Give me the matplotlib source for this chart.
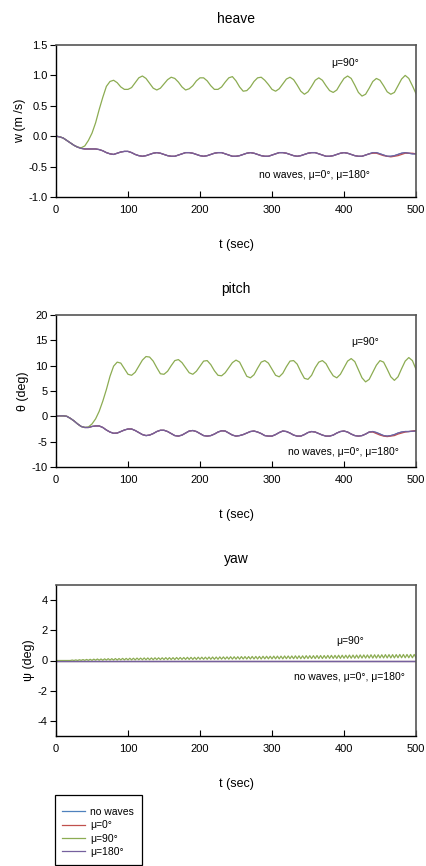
import numpy as np
import matplotlib
matplotlib.use("Agg")
import matplotlib.pyplot as plt
from matplotlib.patches import Rectangle

plt.rcParams['font.family'] = ['Liberation Sans', 'DejaVu Sans']
plt.rcParams['axes.unicode_minus'] = False

# time grid (sec), one reading every 5 s
t = np.arange(0, 501, 5)

# heave w (m/s)
heave_green = [0.00, -0.01, -0.03, -0.07, -0.11, -0.15, -0.18, -0.19, -0.16, -0.07,
               0.05, 0.22, 0.44, 0.64, 0.82, 0.90, 0.92, 0.88, 0.81, 0.77,
               0.77, 0.80, 0.88, 0.96, 0.99, 0.95, 0.87, 0.79, 0.76, 0.79,
               0.86, 0.93, 0.97, 0.95, 0.89, 0.81, 0.76, 0.78, 0.83, 0.91,
               0.96, 0.96, 0.91, 0.83, 0.77, 0.77, 0.81, 0.89, 0.96, 0.98,
               0.91, 0.81, 0.74, 0.75, 0.81, 0.90, 0.96, 0.97, 0.92, 0.85,
               0.77, 0.74, 0.78, 0.86, 0.94, 0.97, 0.93, 0.84, 0.74, 0.69,
               0.73, 0.82, 0.92, 0.96, 0.92, 0.83, 0.75, 0.72, 0.76, 0.86,
               0.95, 0.99, 0.95, 0.84, 0.72, 0.66, 0.69, 0.79, 0.90, 0.95,
               0.92, 0.83, 0.73, 0.69, 0.72, 0.83, 0.94, 1.00, 0.95, 0.83,
               0.70]
heave_low = [0.00, -0.01, -0.03, -0.07, -0.11, -0.15, -0.18, -0.20, -0.21, -0.21,
             -0.21, -0.21, -0.22, -0.24, -0.27, -0.29, -0.30, -0.28, -0.26, -0.25,
             -0.25, -0.27, -0.30, -0.32, -0.33, -0.32, -0.30, -0.28, -0.27, -0.28,
             -0.30, -0.32, -0.33, -0.33, -0.31, -0.29, -0.27, -0.27, -0.28, -0.30,
             -0.32, -0.33, -0.32, -0.30, -0.28, -0.27, -0.27, -0.29, -0.31, -0.33,
             -0.33, -0.32, -0.30, -0.28, -0.27, -0.28, -0.30, -0.32, -0.33, -0.33,
             -0.31, -0.29, -0.27, -0.27, -0.28, -0.30, -0.32, -0.33, -0.32, -0.30,
             -0.28, -0.27, -0.27, -0.29, -0.31, -0.33, -0.33, -0.32, -0.30, -0.28,
             -0.27, -0.28, -0.30, -0.32, -0.33, -0.33, -0.31, -0.29, -0.27, -0.27,
             -0.29, -0.31, -0.33, -0.33, -0.32, -0.30, -0.28, -0.27, -0.28, -0.29,
             -0.29]
# mu=0 departs slightly from the others after t=440
heave_red_tail = [-0.28, -0.28, -0.30, -0.32, -0.33, -0.34, -0.33, -0.32, -0.30,
                  -0.28, -0.28, -0.28, -0.29]

# pitch theta (deg)
pitch_green = [0.0, 0.1, 0.1, 0.0, -0.4, -0.9, -1.5, -2.0, -2.2, -2.1,
               -1.5, -0.5, 1.0, 3.0, 5.3, 7.9, 9.9, 10.7, 10.5, 9.4,
               8.3, 8.1, 8.7, 9.9, 11.1, 11.8, 11.7, 10.9, 9.6, 8.4,
               8.3, 8.9, 10.0, 11.0, 11.2, 10.6, 9.6, 8.6, 8.3, 8.9,
               9.9, 10.9, 11.0, 10.2, 9.0, 8.1, 8.0, 8.6, 9.6, 10.6,
               11.1, 10.7, 9.3, 7.9, 7.6, 8.2, 9.5, 10.7, 11.0, 10.5,
               9.3, 8.1, 7.8, 8.5, 9.8, 10.9, 11.0, 10.3, 8.8, 7.5,
               7.3, 8.1, 9.6, 10.7, 11.0, 10.4, 9.1, 8.0, 7.6, 8.3,
               9.6, 10.9, 11.4, 10.8, 9.2, 7.6, 6.8, 7.3, 8.7, 10.1,
               11.0, 10.7, 9.3, 7.8, 7.1, 7.8, 9.4, 10.9, 11.6, 11.0,
               9.3]
pitch_low = [0.0, 0.1, 0.1, 0.0, -0.4, -0.9, -1.5, -2.0, -2.2, -2.2,
             -2.0, -1.9, -1.9, -2.2, -2.7, -3.1, -3.35, -3.3, -3.0, -2.7,
             -2.5, -2.5, -2.8, -3.2, -3.6, -3.8, -3.7, -3.4, -3.0, -2.75,
             -2.75, -3.0, -3.4, -3.8, -3.9, -3.7, -3.3, -2.9, -2.8, -3.0,
             -3.4, -3.8, -3.9, -3.8, -3.5, -3.1, -2.85, -2.9, -3.3, -3.7,
             -3.9, -3.8, -3.6, -3.3, -3.0, -2.9, -3.1, -3.4, -3.8, -3.9,
             -3.9, -3.6, -3.2, -2.9, -3.0, -3.3, -3.7, -3.9, -3.9, -3.6,
             -3.2, -3.0, -3.1, -3.4, -3.7, -3.9, -3.9, -3.7, -3.3, -3.0,
             -2.9, -3.1, -3.5, -3.8, -3.9, -3.8, -3.5, -3.1, -3.0, -3.2,
             -3.5, -3.8, -3.9, -3.8, -3.6, -3.3, -3.1, -3.0, -3.0, -2.95,
             -2.9]
pitch_red_tail = [-3.1, -3.4, -3.7, -3.9, -4.0, -3.9, -3.8, -3.5, -3.3,
                  -3.1, -3.0, -2.9, -2.8]

# yaw psi (deg): mu=90 ripples, the rest stay at zero
t_yaw_lo = np.arange(0, 501, 5)
t_yaw_hi = np.arange(2.5, 500, 5)
yaw_green_lo = [0, 0, 0, 0, 0,
                0.00, 0.00, 0.01, 0.01, 0.01, 0.01,
                0.02, 0.02, 0.02, 0.03, 0.03, 0.03, 0.03, 0.04, 0.04, 0.04,
                0.04, 0.04, 0.05, 0.05, 0.05, 0.05, 0.05, 0.06, 0.06, 0.06,
                0.06, 0.06, 0.06, 0.07, 0.07, 0.07, 0.07, 0.07, 0.07, 0.08,
                0.08, 0.08, 0.08, 0.08, 0.08, 0.09, 0.09, 0.09, 0.09, 0.09,
                0.09, 0.10, 0.10, 0.10, 0.10, 0.10, 0.10, 0.11, 0.11, 0.11,
                0.11, 0.11, 0.11, 0.12, 0.12, 0.12, 0.12, 0.12, 0.12, 0.13,
                0.13, 0.13, 0.13, 0.13, 0.14, 0.14, 0.14, 0.14, 0.14, 0.15,
                0.15, 0.15, 0.15, 0.15, 0.16, 0.16, 0.16, 0.16, 0.16, 0.17,
                0.17, 0.17, 0.17, 0.17, 0.18, 0.18, 0.18, 0.18, 0.18, 0.18]
yaw_green_hi = [0, 0, 0, 0,
                0.03, 0.04, 0.05, 0.06, 0.07, 0.08,
                0.09, 0.10, 0.10, 0.11, 0.12, 0.12, 0.13, 0.13, 0.14, 0.14,
                0.15, 0.15, 0.16, 0.16, 0.17, 0.17, 0.17, 0.18, 0.18, 0.18,
                0.19, 0.19, 0.19, 0.20, 0.20, 0.20, 0.21, 0.21, 0.21, 0.22,
                0.22, 0.22, 0.23, 0.23, 0.23, 0.24, 0.24, 0.24, 0.25, 0.25,
                0.25, 0.26, 0.26, 0.26, 0.27, 0.27, 0.27, 0.28, 0.28, 0.28,
                0.29, 0.29, 0.29, 0.30, 0.30, 0.30, 0.31, 0.31, 0.31, 0.32,
                0.32, 0.32, 0.33, 0.33, 0.33, 0.34, 0.34, 0.34, 0.35, 0.35,
                0.35, 0.36, 0.36, 0.36, 0.37, 0.37, 0.37, 0.38, 0.38, 0.38,
                0.38, 0.39, 0.39, 0.39, 0.39, 0.40, 0.40, 0.40, 0.40, 0.40]
yaw_low = [0.0, 0.0]
t_yaw_low = [0, 500]

labels = ["no waves", "μ=0°", "μ=90°", "μ=180°"]
colors = ["#4f81bd", "#c0504d", "#8cac52", "#75609e"]

# build the plotted series
yaw_t = np.concatenate([t_yaw_lo, t_yaw_hi])
yaw_v = np.concatenate([yaw_green_lo, yaw_green_hi])
order = np.argsort(yaw_t)
yaw_t, yaw_v = yaw_t[order], yaw_v[order]

n_tail = len(heave_red_tail)
heave_red = heave_low[:-n_tail] + heave_red_tail
pitch_red = pitch_low[:-n_tail] + pitch_red_tail

fig = plt.figure(figsize=(4.26, 8.66), dpi=100)
W, H = 426.0, 866.0


def make_axes(top_px, bot_px):
    return fig.add_axes([56 / W, 1 - bot_px / H, 360 / W, (bot_px - top_px) / H])


panels = [
    dict(top=45, bot=197, title="heave", ylabel="w (m /s)",
         series=[(t, heave_low), (t, heave_red), (t, heave_green), (t, heave_low)],
         ylim=(-1.0, 1.5), yticks=np.arange(-1.0, 1.51, 0.5), fmt="{:.1f}",
         ann90=(401, 1.2), annlow=(359, -0.64)),
    dict(top=315, bot=467, title="pitch", ylabel="θ (deg)",
         series=[(t, pitch_low), (t, pitch_red), (t, pitch_green), (t, pitch_low)],
         ylim=(-10, 20), yticks=np.arange(-10, 21, 5), fmt="{:.0f}",
         ann90=(429, 14.7), annlow=(399, -7.0)),
    dict(top=585, bot=736, title="yaw", ylabel="ψ (deg)",
         series=[(t_yaw_low, yaw_low), (t_yaw_low, yaw_low), (yaw_t, yaw_v), (t_yaw_low, yaw_low)],
         ylim=(-5, 5), yticks=np.arange(-4, 5, 2), fmt="{:.0f}",
         ann90=(408, 1.29), annlow=(408, -1.11)),
]

handles = []
for p in panels:
    ax = make_axes(p["top"], p["bot"])
    lines = []
    for (xs, ys), c, lab in zip(p["series"], colors, labels):
        ln, = ax.plot(xs, ys, color=c, lw=0.9, label=lab)
        lines.append(ln)
    handles = lines
    ax.set_xlim(0, 500)
    ax.set_ylim(*p["ylim"])
    ax.set_xticks(np.arange(0, 501, 100))
    ax.set_yticks(p["yticks"])
    ax.set_yticklabels([p["fmt"].format(v) for v in p["yticks"]])
    ax.tick_params(axis="x", direction="in", length=4, width=0.8, labelsize=8, pad=6)
    ax.tick_params(axis="y", direction="out", length=4, width=0.8, labelsize=8, pad=2)
    for s in ["left", "bottom"]:
        ax.spines[s].set_color("black")
        ax.spines[s].set_linewidth(1.0)
    for s in ["top", "right"]:
        ax.spines[s].set_color("#555555")
        ax.spines[s].set_linewidth(1.2)
    ax.set_ylabel(p["ylabel"], fontsize=9, labelpad=2)
    ax.set_xlabel("t (sec)", fontsize=9, labelpad=17)
    fig.text(236 / W, 1 - (p["top"] - 26) / H, p["title"], fontsize=10,
             ha="center", va="center")
    ax.text(*p["ann90"], "μ=90°", fontsize=7.5, ha="center", va="center")
    ax.text(*p["annlow"], "no waves, μ=0°, μ=180°", fontsize=7.5,
            ha="center", va="center")

# legend box: plain rectangle, entries inside it
fig.patches.append(Rectangle((55 / W, 1 - 865 / H), 87 / W, 70 / H,
                             transform=fig.transFigure, fill=False,
                             edgecolor="black", lw=0.9))
fig.legend(handles, labels, loc="upper left",
           bbox_to_anchor=(62 / W, 1 - 807 / H), borderaxespad=0, borderpad=0,
           fontsize=7.5, frameon=False,
           handlelength=2.2, handletextpad=0.5, labelspacing=0.32)

fig.savefig("out.png", dpi=100)
